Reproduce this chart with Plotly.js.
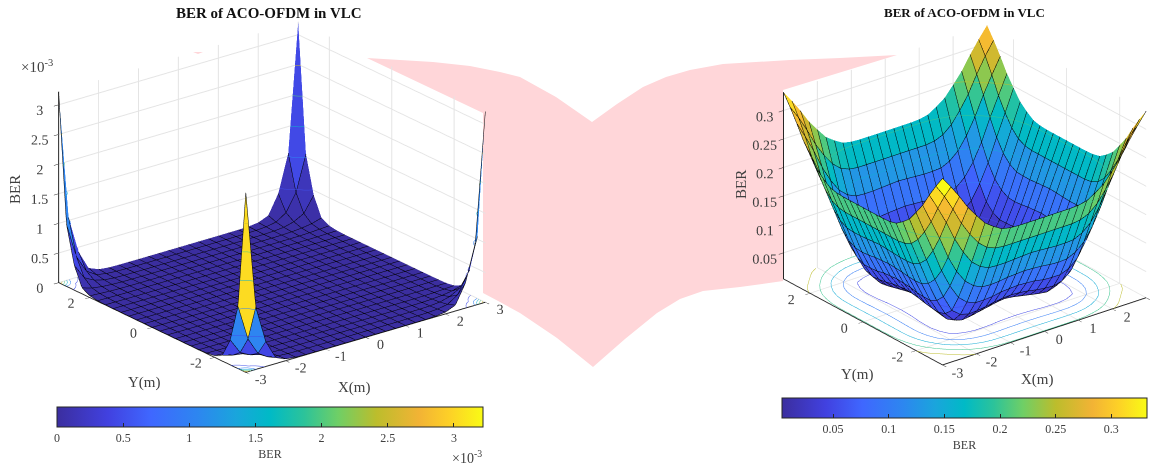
<!DOCTYPE html>
<html><head><meta charset="utf-8">
<script src="https://cdn.plot.ly/plotly-3.0.1.min.js"></script>
<style>html,body{margin:0;padding:0;background:#fff}#g{width:1158px;height:465px}</style>
</head><body><div id="g"></div>
<script>
// Grid coordinates (m)
const coords = [-3,-2.75,-2.5,-2.25,-2,-1.75,-1.5,-1.25,-1,-0.75,-0.5,-0.25,0,0.25,0.5,0.75,1,1.25,1.5,1.75,2,2.25,2.5,2.75,3];
// One quadrant of each (four-fold symmetric) surface; rows and columns are |x|,|y| = 0,0.25,...,3
const berLeftQuadrant = [ // units of 1e-3
 [.002,.002,.002,.002,.002,.002,.002,.002,.002,.002,.002,.002,.003],
 [.002,.002,.002,.002,.002,.002,.002,.002,.002,.002,.002,.002,.003],
 [.002,.002,.002,.002,.002,.002,.002,.002,.002,.002,.002,.002,.003],
 [.002,.002,.002,.002,.002,.002,.002,.002,.002,.002,.002,.002,.003],
 [.002,.002,.002,.002,.002,.002,.002,.002,.002,.002,.002,.002,.003],
 [.002,.002,.002,.002,.002,.002,.002,.002,.002,.002,.002,.003,.004],
 [.002,.002,.002,.002,.002,.002,.002,.002,.002,.002,.003,.004,.005],
 [.002,.002,.002,.002,.002,.002,.002,.002,.002,.003,.004,.008,.010],
 [.002,.002,.002,.002,.002,.002,.002,.002,.003,.005,.010,.020,.030],
 [.002,.002,.002,.002,.002,.002,.002,.003,.005,.012,.025,.050,.100],
 [.002,.002,.002,.002,.002,.002,.003,.004,.010,.025,.070,.160,.420],
 [.002,.002,.002,.002,.002,.003,.004,.008,.020,.050,.160,.450,1.05],
 [.003,.003,.003,.003,.003,.004,.005,.010,.030,.100,.420,1.05,3.22]
];
const berLeftFrontCorner = 3.03;
const berRightQuadrant = [
 [.022,.021,.020,.018,.017,.018,.024,.037,.060,.092,.130,.167,.205],
 [.021,.020,.019,.017,.015,.016,.022,.036,.059,.091,.129,.167,.205],
 [.020,.019,.016,.013,.012,.013,.019,.034,.058,.090,.128,.167,.205],
 [.018,.017,.013,.010,.008,.009,.016,.031,.055,.088,.127,.167,.205],
 [.017,.015,.012,.008,.006,.006,.013,.029,.054,.087,.127,.167,.206],
 [.018,.016,.013,.009,.006,.0042,.011,.028,.054,.088,.128,.169,.209],
 [.024,.022,.019,.016,.013,.011,.016,.032,.060,.095,.135,.175,.218],
 [.037,.036,.034,.031,.029,.028,.032,.044,.073,.108,.148,.188,.229],
 [.060,.059,.058,.055,.054,.054,.060,.073,.098,.130,.170,.208,.247],
 [.092,.091,.090,.088,.087,.088,.095,.108,.130,.160,.198,.232,.266],
 [.130,.129,.128,.127,.127,.128,.135,.148,.170,.198,.232,.262,.290],
 [.167,.167,.167,.167,.167,.169,.175,.188,.208,.232,.262,.289,.312],
 [.205,.205,.205,.205,.206,.209,.218,.229,.247,.266,.290,.312,.332]
];
const xTicks = [-3,-2,-1,0,1,2,3];
const xLabels = ['-3','-2','-1','0','1','2','3'];
const yTicks = [-2,0,2];
const yLabels = ['-2','0','2'];
const zTicksLeft = [0,0.5,1,1.5,2,2.5,3];
const zTicksRight = [0.05,0.1,0.15,0.2,0.25,0.3];
const chartTitle = 'BER of ACO-OFDM in VLC';
const paletteStops = [[0,'#3b2e9f'],[.12,'#4141e0'],[.22,'#3f67ff'],[.33,'#2d86f0'],[.42,'#1aa5dc'],[.5,'#00bac6'],[.58,'#2cc39a'],[.66,'#6fcf66'],[.75,'#bcbd2c'],[.85,'#f2b335'],[.92,'#fdd027'],[1,'#f9fb15']];
const pinkOutline = [[367,58],[400,60],[433,62],[470,66],[500,72],[520,77],[556,97],[592,122],[617,104],[643,87],[666,77],[690,70],[723,64],[790,60],[840,58],[897,55],[783,90],[783,281],[740,287],[703,291],[680,299],[657,313],[625,339],[593,367],[557,338],[520,313],[500,302],[483,293],[483,113]];
const pinkSliver = [[193,52],[203,52],[198,54]];

const serif = '"Liberation Serif","Times New Roman",serif';
const txt = '#404040';
const fullGrid = q => coords.map(v => coords.map(u => q[Math.round(Math.abs(v)/0.25)][Math.round(Math.abs(u)/0.25)]));
const hex = h => [1,3,5].map(i => parseInt(h.substr(i,2),16));
function pal(t){
  t = Math.max(0,Math.min(1,t));
  for(let i=1;i<paletteStops.length;i++){
    if(t<=paletteStops[i][0]){
      const a=paletteStops[i-1],b=paletteStops[i],f=(t-a[0])/(b[0]-a[0]),A=hex(a[1]),B=hex(b[1]);
      return 'rgb('+A.map((c,k)=>Math.round(c+(B[k]-c)*f)).join(',')+')';
    }
  }
  return paletteStops[paletteStops.length-1][1];
}
function faces(z,cmin,cmax,scene){
  const n=coords.length,X=[],Y=[],Z=[],I=[],J=[],K=[],C=[];
  for(let r=0;r<n;r++)for(let c=0;c<n;c++){X.push(coords[c]);Y.push(coords[r]);Z.push(z[r][c]);}
  for(let r=0;r<n-1;r++)for(let c=0;c<n-1;c++){
    const a=r*n+c,b=a+1,d=a+n,e=d+1,col=pal((z[r][c]-cmin)/(cmax-cmin));
    I.push(a,a);J.push(b,e);K.push(e,d);C.push(col,col);
  }
  return {type:'mesh3d',scene,x:X,y:Y,z:Z,i:I,j:J,k:K,facecolor:C,flatshading:true,hoverinfo:'skip',
    lighting:{ambient:1,diffuse:0,specular:0,roughness:1,fresnel:0},showscale:false};
}
function overlay(z,cmin,cmax,scene,levels,cb){
  return {type:'surface',scene,x:coords,y:coords,z,hidesurface:true,cmin,cmax,colorscale:paletteStops,hoverinfo:'skip',
    contours:{
      x:{show:true,start:-3,end:3.0001,size:.25,color:'#000',width:2,usecolormap:false},
      y:{show:true,start:-3,end:3.0001,size:.25,color:'#000',width:2,usecolormap:false},
      z:Object.assign({show:true,usecolormap:true,width:3,project:{z:true}},levels)
    },colorbar:cb};
}
function axis(tv,extra){
  return Object.assign({tickvals:tv,tickangle:0,ticks:'outside',ticklen:5,tickcolor:'#262626',tickfont:{family:serif,size:13,color:txt},
    title:{text:''},showgrid:true,gridcolor:'#e4e4e4',gridwidth:2,
    showline:true,linecolor:'#262626',linewidth:2,zeroline:false,showbackground:false,showspikes:false},extra);
}
function cbar(cx,top,len,tv){
  return {orientation:'h',x:cx/1158,xanchor:'center',y:1-top/465,yanchor:'top',len,lenmode:'pixels',thickness:20,thicknessmode:'pixels',
    xpad:0,ypad:0,outlinecolor:'#262626',outlinewidth:1,ticks:'inside',ticklen:4,tickcolor:'#262626',tickvals:tv,
    tickfont:{family:serif,size:12,color:txt},title:{text:'BER',side:'bottom',font:{family:serif,size:12,color:txt}}};
}
const zL=fullGrid(berLeftQuadrant), zR=fullGrid(berRightQuadrant);
zL[0][0]=berLeftFrontCorner;
const data=[
 faces(zL,0,3.22,'scene'),
 overlay(zL,0,3.22,'scene',{start:.5,end:3,size:.5},cbar(270,407,426,[0,.5,1,1.5,2,2.5,3])),
 faces(zR,.0042,.332,'scene2'),
 overlay(zR,.0042,.332,'scene2',{start:.05,end:.3,size:.05},cbar(964.5,398,365,[.05,.1,.15,.2,.25,.3]))
];
const pxPath = pts => pts.map((p,i)=>(i?'L':'M')+(p[0]/1158).toFixed(5)+','+(1-p[1]/465).toFixed(5)).join(' ')+' Z';
function camera(r,elDeg,azDeg,shift){
  const el=elDeg*Math.PI/180,az=azDeg*Math.PI/180;
  const cx=-shift*Math.cos(az),cy=shift*Math.sin(az);
  return {projection:{type:'orthographic'},up:{x:0,y:0,z:1},center:{x:cx,y:cy,z:0},
    eye:{x:cx-r*Math.cos(el)*Math.sin(az),y:cy-r*Math.cos(el)*Math.cos(az),z:r*Math.sin(el)}};
}
const note=(text,x,y,size,extra)=>Object.assign({text,xref:'paper',yref:'paper',x:x/1158,y:1-y/465,xanchor:'center',yanchor:'middle',showarrow:false,font:{family:serif,size,color:txt}},extra);
const pinkShape = pts => ({type:'path',xref:'paper',yref:'paper',layer:'below',path:pxPath(pts),fillcolor:'#ffd6d9',line:{width:0}});
const layout={width:1158,height:465,autosize:false,margin:{l:0,r:0,t:0,b:0},paper_bgcolor:'#fff',showlegend:false,
 scene:{domain:{x:[12/1158,532/1158],y:[1-394/465,1]},bgcolor:'rgba(0,0,0,0)',aspectmode:'manual',aspectratio:{x:1.543,y:1.543,z:1.045},
   camera:camera(3,22,38,0),
   xaxis:axis(xTicks,{range:[-3,3],ticktext:xLabels,ticklen:6}),yaxis:axis(yTicks,{range:[-3,3],ticktext:yLabels,ticklen:6}),zaxis:axis(zTicksLeft,{range:[0,3.22],ticklen:3})},
 scene2:{domain:{x:[738/1158,1],y:[1-390/465,1]},bgcolor:'rgba(0,0,0,0)',aspectmode:'manual',aspectratio:{x:1.325,y:1.325,z:1.056},
   camera:camera(3,25,38,.0863),
   xaxis:axis(xTicks,{range:[-3,3],ticktext:xLabels,ticklen:6}),yaxis:axis(yTicks,{range:[-3,3],ticktext:yLabels,ticklen:6}),zaxis:axis(zTicksRight,{range:[.0042,.332],ticklen:3})},
 shapes:[pinkShape(pinkOutline),pinkShape(pinkSliver)],
 annotations:[
  note('<b>'+chartTitle+'</b>',269,13,15,{font:{family:serif,size:15,color:'#111'}}),
  note('<b>'+chartTitle+'</b>',964,13,13,{font:{family:serif,size:13,color:'#111'}}),
  note('×10<sup>-3</sup>',37,66,15),
  note('×10<sup>-3</sup>',467,457,14),
  note('BER',15,189,15,{textangle:-90}),
  note('X(m)',354,387,15),
  note('Y(m)',144,382,15),
  note('BER',741,185,15,{textangle:-90}),
  note('X(m)',1037,379,15),
  note('Y(m)',857,374,15)
 ]};
Plotly.newPlot('g',data,layout,{displayModeBar:false});
</script></body></html>
